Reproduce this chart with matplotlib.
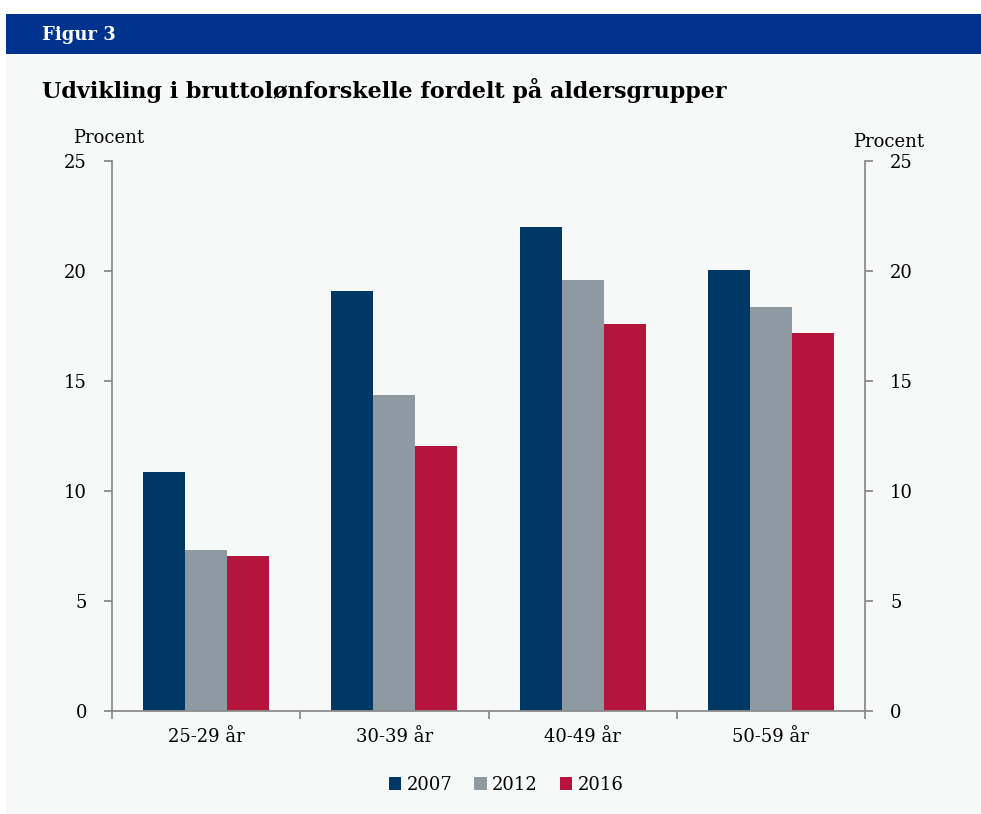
import numpy as np
import matplotlib
matplotlib.use("Agg")
import matplotlib.pyplot as plt
from matplotlib.patches import Rectangle, Patch

# data
categories = ["25-29 år", "30-39 år", "40-49 år", "50-59 år"]
years = ["2007", "2012", "2016"]
v2007 = [10.85, 19.1, 22.0, 20.05]
v2012 = [7.3, 14.35, 19.6, 18.35]
v2016 = [7.05, 12.05, 17.6, 17.2]
yticks = [0, 5, 10, 15, 20, 25]

COLORS = ["#003865", "#8D9AA1", "#B5153C"]
HEADER = "#00338D"
BG = "#F7F9F9"
SPINE = "#8C8C8C"
FONT = "DejaVu Serif"
FS = 13

W, H = 981, 814
fig = plt.figure(figsize=(W / 100, H / 100), dpi=100)
fig.patch.set_facecolor("white")


def fx(px):
    return px / W


def fy(py):
    return 1 - py / H


# background panel + blue header band (behind the axes)
fig.patches.append(Rectangle((fx(6), 0), 1 - fx(6), fy(54), transform=fig.transFigure,
                             facecolor=BG, edgecolor="none", zorder=-10))
fig.patches.append(Rectangle((fx(6), fy(54)), 1 - fx(6), fy(14) - fy(54),
                             transform=fig.transFigure, facecolor=HEADER,
                             edgecolor="none", zorder=-10))
fig.text(fx(42), fy(35), "Figur 3", color="white", fontsize=13, fontweight="bold",
         family=FONT, va="center", ha="left")
fig.text(fx(42), fy(90), "Udvikling i bruttolønforskelle fordelt på aldersgrupper",
         fontsize=16, fontweight="bold", family=FONT, va="center", ha="left")

ax = fig.add_axes([fx(112), fy(711), fx(865) - fx(112), fy(161) - fy(711)])
ax.set_facecolor("none")

x = np.arange(len(categories))
w = 0.223
for i, (vals, lab) in enumerate(zip([v2007, v2012, v2016], years)):
    ax.bar(x + (i - 1) * w, vals, width=w, color=COLORS[i], label=lab,
           edgecolor="none", zorder=2)

ax.set_xlim(-0.5, len(categories) - 0.5)
ax.set_ylim(0, 25)
ax.set_yticks(yticks)
ax.set_yticklabels([str(t) for t in yticks], fontsize=FS, family=FONT)

# category boundaries as major ticks, labels as minor ticks
ax.set_xticks(np.arange(-0.5, len(categories), 1.0))
ax.set_xticklabels([])
ax.set_xticks(x, minor=True)
ax.set_xticklabels(categories, minor=True, fontsize=FS, family=FONT)
ax.tick_params(axis="x", which="major", length=6, width=1.3, color=SPINE, direction="out")
ax.tick_params(axis="x", which="minor", length=0, pad=12)
ax.tick_params(axis="y", length=6, width=1.3, color=SPINE, direction="out", pad=12)

ax.spines["top"].set_visible(False)
ax.spines["right"].set_visible(False)
for s in ["left", "bottom"]:
    ax.spines[s].set_color(SPINE)
    ax.spines[s].set_linewidth(1.3)

ax2 = ax.twinx()
ax2.set_ylim(0, 25)
ax2.set_yticks(yticks)
ax2.set_yticklabels([str(t) for t in yticks], fontsize=FS, family=FONT)
ax2.tick_params(axis="y", length=6, width=1.3, color=SPINE, direction="out", pad=12)
for s in ["top", "left", "bottom"]:
    ax2.spines[s].set_visible(False)
ax2.spines["right"].set_color(SPINE)
ax2.spines["right"].set_linewidth(1.3)

fig.text(fx(73), fy(138), "Procent", fontsize=FS, family=FONT, va="center", ha="left")
fig.text(fx(853), fy(142), "Procent", fontsize=FS, family=FONT, va="center", ha="left")

handles = [Patch(facecolor=c, edgecolor="none", label=l) for c, l in zip(COLORS, years)]
fig.legend(handles=handles, loc="center", bbox_to_anchor=(fx(506), fy(785)), ncol=3,
           frameon=False, prop={"family": FONT, "size": FS}, handlelength=0.7,
           handleheight=0.7, handletextpad=0.3, columnspacing=1.2)

fig.savefig("out.png", dpi=100, facecolor=fig.get_facecolor())
